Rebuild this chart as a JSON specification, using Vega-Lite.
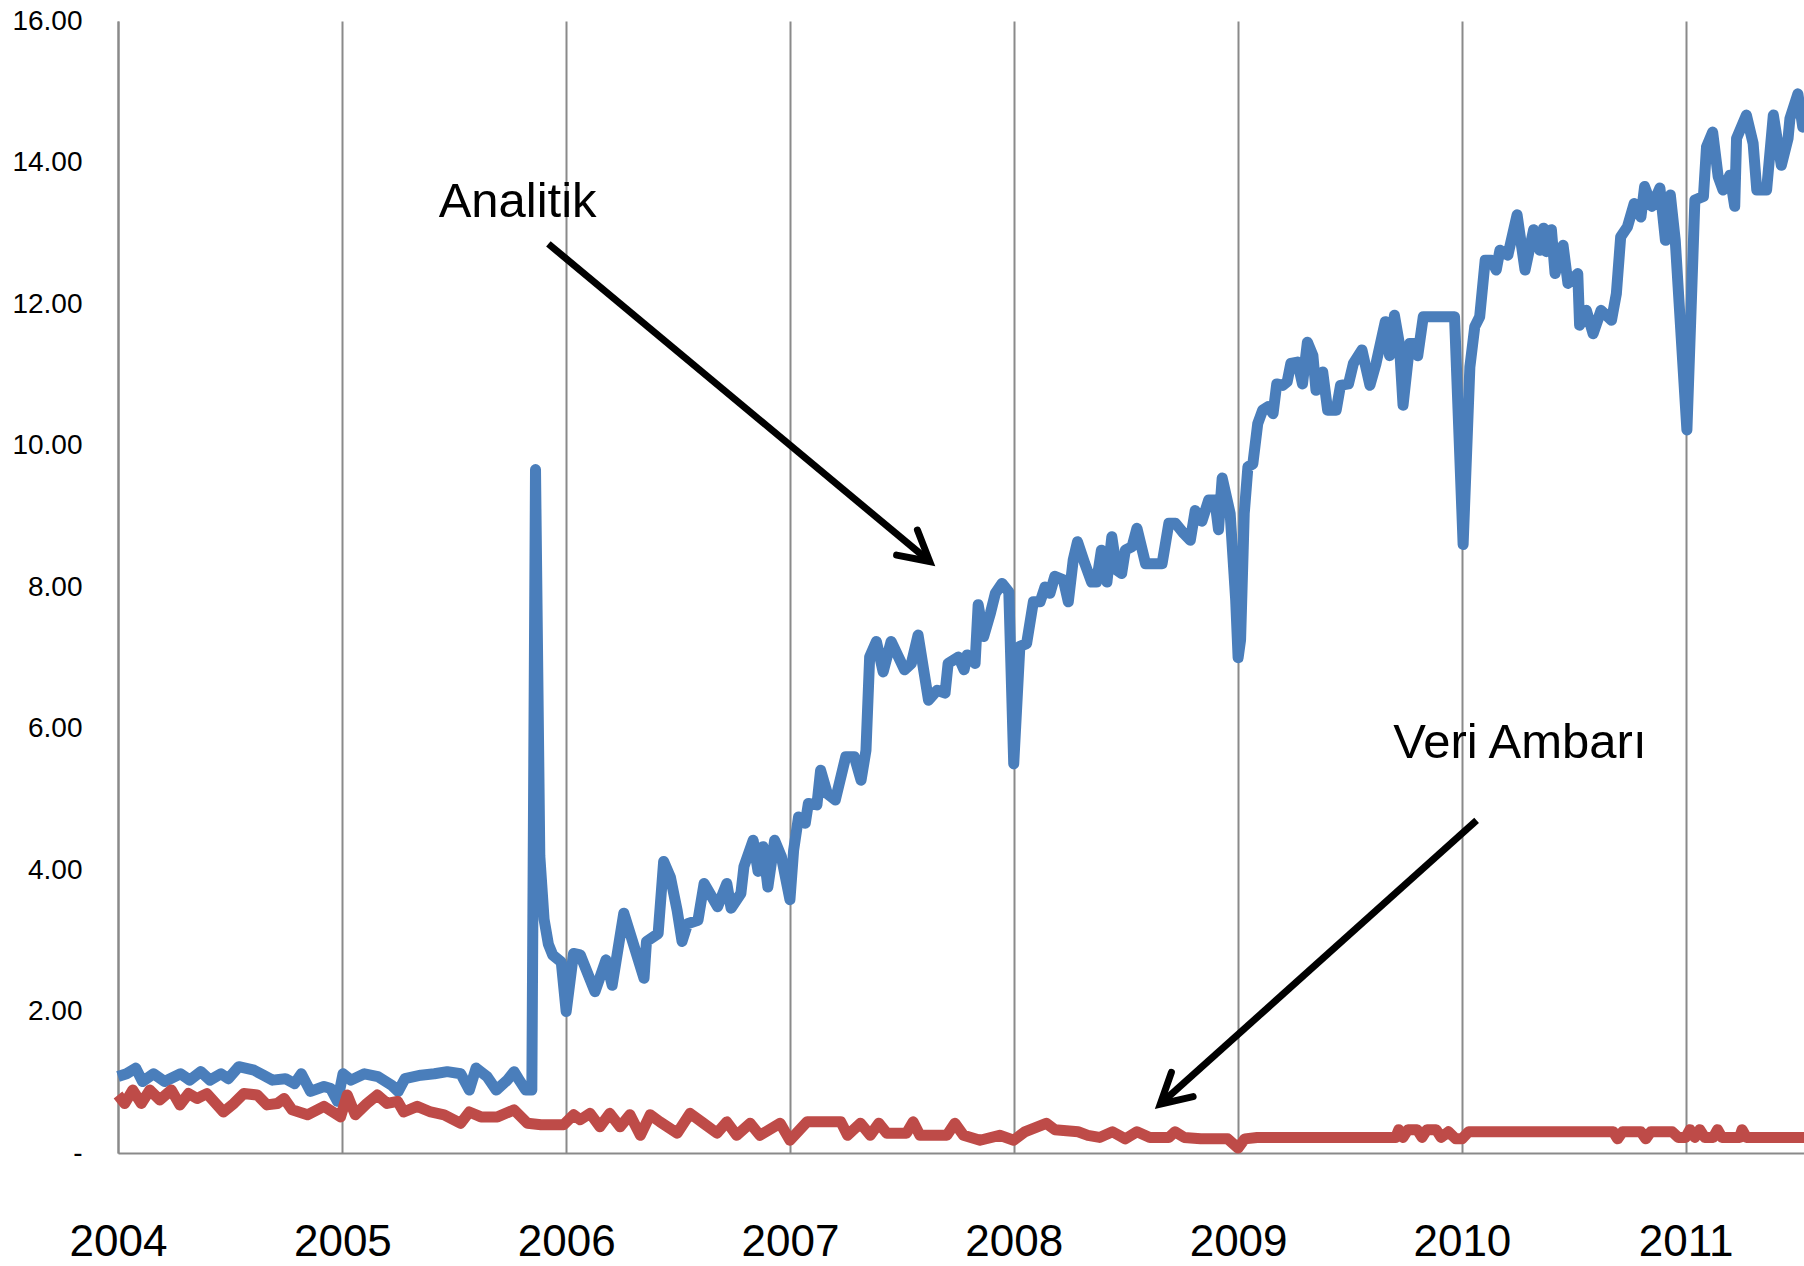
{
  "$schema": "https://vega.github.io/schema/vega-lite/v6.json",
  "width": 1686,
  "height": 1132,
  "autosize": "none",
  "padding": {"left": 118, "top": 21, "right": 0, "bottom": 113},
  "background": "white",
  "config": {"view": {"stroke": null}, "font": "Liberation Sans"},
  "datasets": {
    "analitik": [
      {"date":"2004-01-01","value":1.08},{"date":"2004-01-15","value":1.12},{"date":"2004-01-30","value":1.20},{"date":"2004-02-10","value":1.01},
      {"date":"2004-02-28","value":1.12},{"date":"2004-03-17","value":1.01},{"date":"2004-04-12","value":1.12},{"date":"2004-04-27","value":1.03},
      {"date":"2004-05-15","value":1.15},{"date":"2004-05-30","value":1.03},{"date":"2004-06-17","value":1.12},{"date":"2004-06-29","value":1.05},
      {"date":"2004-07-16","value":1.22},{"date":"2004-08-10","value":1.17},{"date":"2004-08-25","value":1.10},{"date":"2004-09-09","value":1.03},
      {"date":"2004-09-30","value":1.05},{"date":"2004-10-15","value":0.98},{"date":"2004-10-26","value":1.12},{"date":"2004-11-10","value":0.87},
      {"date":"2004-12-02","value":0.94},{"date":"2004-12-13","value":0.91},{"date":"2004-12-24","value":0.73},{"date":"2005-01-02","value":1.12},
      {"date":"2005-01-15","value":1.03},{"date":"2005-02-06","value":1.12},{"date":"2005-02-28","value":1.08},{"date":"2005-03-22","value":0.96},
      {"date":"2005-04-02","value":0.87},{"date":"2005-04-13","value":1.05},{"date":"2005-05-09","value":1.10},{"date":"2005-05-31","value":1.12},
      {"date":"2005-06-21","value":1.15},{"date":"2005-07-13","value":1.12},{"date":"2005-07-27","value":0.89},{"date":"2005-08-07","value":1.20},
      {"date":"2005-08-25","value":1.08},{"date":"2005-09-09","value":0.89},{"date":"2005-09-27","value":1.03},{"date":"2005-10-08","value":1.15},
      {"date":"2005-10-15","value":1.05},{"date":"2005-10-27","value":0.89},{"date":"2005-11-06","value":0.89},{"date":"2005-11-12","value":9.66},
      {"date":"2005-11-19","value":4.2},{"date":"2005-11-26","value":3.3},{"date":"2005-12-03","value":2.95},{"date":"2005-12-10","value":2.8},
      {"date":"2005-12-17","value":2.75},{"date":"2005-12-24","value":2.7},{"date":"2006-01-01","value":2.0},{"date":"2006-01-13","value":2.82},
      {"date":"2006-01-24","value":2.80},{"date":"2006-02-17","value":2.28},{"date":"2006-03-07","value":2.73},{"date":"2006-03-17","value":2.37},
      {"date":"2006-04-05","value":3.39},{"date":"2006-05-08","value":2.47},{"date":"2006-05-12","value":2.99},{"date":"2006-05-31","value":3.1},
      {"date":"2006-06-09","value":4.12},{"date":"2006-06-20","value":3.90},{"date":"2006-07-01","value":3.43},{"date":"2006-07-09","value":2.99},
      {"date":"2006-07-18","value":3.24},{"date":"2006-08-04","value":3.29},{"date":"2006-08-14","value":3.81},{"date":"2006-09-05","value":3.48},
      {"date":"2006-09-20","value":3.81},{"date":"2006-09-27","value":3.46},{"date":"2006-10-13","value":3.67},{"date":"2006-10-18","value":4.05},
      {"date":"2006-11-02","value":4.42},{"date":"2006-11-10","value":3.98},{"date":"2006-11-18","value":4.33},{"date":"2006-11-26","value":3.76},
      {"date":"2006-12-07","value":4.42},{"date":"2006-12-18","value":4.19},{"date":"2007-01-01","value":3.58},{"date":"2007-01-07","value":4.28},
      {"date":"2007-01-15","value":4.75},{"date":"2007-01-26","value":4.66},{"date":"2007-01-31","value":4.94},{"date":"2007-02-14","value":4.92},
      {"date":"2007-02-20","value":5.41},{"date":"2007-03-03","value":5.08},{"date":"2007-03-16","value":4.99},{"date":"2007-04-02","value":5.60},
      {"date":"2007-04-16","value":5.60},{"date":"2007-04-27","value":5.27},{"date":"2007-05-05","value":5.69},{"date":"2007-05-11","value":7.01},
      {"date":"2007-05-22","value":7.23},{"date":"2007-06-02","value":6.80},{"date":"2007-06-15","value":7.23},{"date":"2007-07-07","value":6.83},
      {"date":"2007-07-18","value":6.92},{"date":"2007-07-29","value":7.32},{"date":"2007-08-15","value":6.40},{"date":"2007-08-29","value":6.54},
      {"date":"2007-09-11","value":6.50},{"date":"2007-09-16","value":6.92},{"date":"2007-10-03","value":7.01},{"date":"2007-10-12","value":6.83},
      {"date":"2007-10-17","value":7.04},{"date":"2007-10-30","value":6.92},{"date":"2007-11-04","value":7.75},{"date":"2007-11-13","value":7.30},
      {"date":"2007-11-24","value":7.63},{"date":"2007-12-02","value":7.91},{"date":"2007-12-13","value":8.05},{"date":"2007-12-24","value":7.93},
      {"date":"2008-01-01","value":5.50},{"date":"2008-01-11","value":7.16},{"date":"2008-01-22","value":7.20},{"date":"2008-02-02","value":7.79},
      {"date":"2008-02-13","value":7.79},{"date":"2008-02-21","value":8.00},{"date":"2008-02-29","value":7.91},{"date":"2008-03-08","value":8.15},
      {"date":"2008-03-22","value":8.10},{"date":"2008-03-30","value":7.79},{"date":"2008-04-07","value":8.38},{"date":"2008-04-14","value":8.64},
      {"date":"2008-04-26","value":8.33},{"date":"2008-05-07","value":8.07},{"date":"2008-05-15","value":8.07},{"date":"2008-05-23","value":8.52},
      {"date":"2008-06-01","value":8.07},{"date":"2008-06-09","value":8.71},{"date":"2008-06-17","value":8.24},{"date":"2008-06-25","value":8.19},
      {"date":"2008-07-01","value":8.52},{"date":"2008-07-12","value":8.57},{"date":"2008-07-20","value":8.83},{"date":"2008-08-03","value":8.33},
      {"date":"2008-08-30","value":8.33},{"date":"2008-09-10","value":8.90},{"date":"2008-09-21","value":8.90},{"date":"2008-10-04","value":8.76},
      {"date":"2008-10-15","value":8.66},{"date":"2008-10-23","value":9.08},{"date":"2008-11-03","value":8.93},{"date":"2008-11-14","value":9.23},
      {"date":"2008-11-24","value":9.23},{"date":"2008-11-30","value":8.81},{"date":"2008-12-06","value":9.54},{"date":"2008-12-19","value":9.04},
      {"date":"2008-12-28","value":7.82},{"date":"2009-01-01","value":7.00},{"date":"2009-01-05","value":7.25},{"date":"2009-01-11","value":9.04},
      {"date":"2009-01-17","value":9.70},{"date":"2009-01-25","value":9.74},{"date":"2009-02-02","value":10.31},{"date":"2009-02-10","value":10.50},
      {"date":"2009-02-19","value":10.55},{"date":"2009-02-27","value":10.45},{"date":"2009-03-05","value":10.87},{"date":"2009-03-15","value":10.85},
      {"date":"2009-03-22","value":10.90},{"date":"2009-03-28","value":11.16},{"date":"2009-04-08","value":11.18},{"date":"2009-04-16","value":10.87},
      {"date":"2009-04-24","value":11.46},{"date":"2009-05-03","value":11.27},{"date":"2009-05-08","value":10.78},{"date":"2009-05-19","value":11.04},
      {"date":"2009-05-27","value":10.50},{"date":"2009-06-10","value":10.50},{"date":"2009-06-17","value":10.85},{"date":"2009-06-30","value":10.87},
      {"date":"2009-07-08","value":11.16},{"date":"2009-07-22","value":11.35},{"date":"2009-08-04","value":10.85},{"date":"2009-08-14","value":11.16},
      {"date":"2009-08-29","value":11.75},{"date":"2009-09-05","value":11.27},{"date":"2009-09-13","value":11.84},{"date":"2009-09-21","value":11.44},
      {"date":"2009-09-27","value":10.57},{"date":"2009-10-08","value":11.44},{"date":"2009-10-16","value":11.44},{"date":"2009-10-21","value":11.27},
      {"date":"2009-10-30","value":11.82},{"date":"2009-12-20","value":11.82},{"date":"2010-01-03","value":8.60},{"date":"2010-01-14","value":11.11},
      {"date":"2010-01-22","value":11.68},{"date":"2010-01-30","value":11.82},{"date":"2010-02-08","value":12.62},{"date":"2010-02-18","value":12.62},
      {"date":"2010-02-26","value":12.48},{"date":"2010-03-04","value":12.76},{"date":"2010-03-17","value":12.69},{"date":"2010-04-01","value":13.26},
      {"date":"2010-04-14","value":12.48},{"date":"2010-04-28","value":13.05},{"date":"2010-05-08","value":12.76},{"date":"2010-05-14","value":13.07},
      {"date":"2010-05-19","value":12.74},{"date":"2010-05-27","value":13.05},{"date":"2010-06-02","value":12.43},{"date":"2010-06-15","value":12.83},
      {"date":"2010-06-23","value":12.29},{"date":"2010-07-09","value":12.43},{"date":"2010-07-12","value":11.70},{"date":"2010-07-23","value":11.91},
      {"date":"2010-08-03","value":11.58},{"date":"2010-08-16","value":11.91},{"date":"2010-09-02","value":11.77},{"date":"2010-09-10","value":12.15},
      {"date":"2010-09-17","value":12.95},{"date":"2010-09-28","value":13.09},{"date":"2010-10-09","value":13.42},{"date":"2010-10-20","value":13.23},
      {"date":"2010-10-26","value":13.66},{"date":"2010-11-07","value":13.38},{"date":"2010-11-20","value":13.64},{"date":"2010-11-29","value":12.90},
      {"date":"2010-12-07","value":13.54},{"date":"2010-12-15","value":12.90},{"date":"2011-01-03","value":10.22},{"date":"2011-01-16","value":13.47},
      {"date":"2011-01-30","value":13.52},{"date":"2011-02-04","value":14.22},{"date":"2011-02-14","value":14.43},{"date":"2011-02-23","value":13.80},
      {"date":"2011-03-03","value":13.61},{"date":"2011-03-14","value":13.82},{"date":"2011-03-22","value":13.38},{"date":"2011-03-25","value":14.34},
      {"date":"2011-04-10","value":14.67},{"date":"2011-04-21","value":14.27},{"date":"2011-04-27","value":13.61},{"date":"2011-05-13","value":13.61},
      {"date":"2011-05-24","value":14.67},{"date":"2011-06-06","value":13.96},{"date":"2011-06-17","value":14.34},{"date":"2011-06-20","value":14.62},
      {"date":"2011-07-03","value":14.97},{"date":"2011-07-11","value":14.50},{"date":"2011-07-13","value":14.55}
    ],
    "veri": [
      {"date":"2004-01-01","value":0.82},{"date":"2004-01-12","value":0.70},{"date":"2004-01-25","value":0.89},{"date":"2004-02-08","value":0.70},
      {"date":"2004-02-22","value":0.89},{"date":"2004-03-09","value":0.75},{"date":"2004-03-28","value":0.89},{"date":"2004-04-11","value":0.68},
      {"date":"2004-04-25","value":0.84},{"date":"2004-05-09","value":0.77},{"date":"2004-05-25","value":0.84},{"date":"2004-06-21","value":0.58},
      {"date":"2004-07-08","value":0.70},{"date":"2004-07-24","value":0.84},{"date":"2004-08-15","value":0.82},{"date":"2004-08-31","value":0.68},
      {"date":"2004-09-17","value":0.70},{"date":"2004-09-28","value":0.77},{"date":"2004-10-11","value":0.61},{"date":"2004-11-05","value":0.54},
      {"date":"2004-12-02","value":0.66},{"date":"2004-12-29","value":0.51},{"date":"2005-01-09","value":0.82},{"date":"2005-01-22","value":0.54},
      {"date":"2005-02-10","value":0.70},{"date":"2005-02-27","value":0.82},{"date":"2005-03-15","value":0.70},{"date":"2005-04-01","value":0.73},
      {"date":"2005-04-11","value":0.58},{"date":"2005-05-03","value":0.66},{"date":"2005-05-25","value":0.58},{"date":"2005-06-16","value":0.54},
      {"date":"2005-07-13","value":0.42},{"date":"2005-07-27","value":0.58},{"date":"2005-08-15","value":0.51},{"date":"2005-09-11","value":0.51},
      {"date":"2005-10-08","value":0.61},{"date":"2005-10-30","value":0.42},{"date":"2005-11-21","value":0.40},{"date":"2005-12-28","value":0.40},
      {"date":"2006-01-13","value":0.54},{"date":"2006-01-24","value":0.47},{"date":"2006-02-09","value":0.56},{"date":"2006-02-25","value":0.37},
      {"date":"2006-03-13","value":0.56},{"date":"2006-03-30","value":0.37},{"date":"2006-04-15","value":0.54},{"date":"2006-05-02","value":0.25},
      {"date":"2006-05-18","value":0.54},{"date":"2006-06-03","value":0.44},{"date":"2006-07-01","value":0.28},{"date":"2006-07-22","value":0.56},
      {"date":"2006-08-13","value":0.42},{"date":"2006-09-04","value":0.28},{"date":"2006-09-20","value":0.44},{"date":"2006-10-06","value":0.25},
      {"date":"2006-10-28","value":0.42},{"date":"2006-11-13","value":0.25},{"date":"2006-12-16","value":0.42},{"date":"2007-01-01","value":0.18},
      {"date":"2007-01-29","value":0.44},{"date":"2007-03-25","value":0.44},{"date":"2007-04-05","value":0.25},{"date":"2007-04-26","value":0.42},
      {"date":"2007-05-12","value":0.25},{"date":"2007-05-26","value":0.42},{"date":"2007-06-08","value":0.28},{"date":"2007-07-10","value":0.28},
      {"date":"2007-07-21","value":0.44},{"date":"2007-08-01","value":0.25},{"date":"2007-09-14","value":0.25},{"date":"2007-09-27","value":0.42},
      {"date":"2007-10-11","value":0.25},{"date":"2007-11-07","value":0.18},{"date":"2007-12-09","value":0.25},{"date":"2008-01-01","value":0.18},
      {"date":"2008-01-19","value":0.30},{"date":"2008-02-23","value":0.42},{"date":"2008-03-08","value":0.33},{"date":"2008-04-15","value":0.30},
      {"date":"2008-05-01","value":0.25},{"date":"2008-05-20","value":0.22},{"date":"2008-06-10","value":0.30},{"date":"2008-07-01","value":0.20},
      {"date":"2008-07-20","value":0.30},{"date":"2008-08-10","value":0.22},{"date":"2008-09-10","value":0.22},{"date":"2008-09-20","value":0.30},
      {"date":"2008-10-05","value":0.22},{"date":"2008-11-01","value":0.20},{"date":"2008-12-15","value":0.20},{"date":"2009-01-01","value":0.07},
      {"date":"2009-01-12","value":0.20},{"date":"2009-02-01","value":0.22},{"date":"2009-09-15","value":0.22},{"date":"2009-09-20","value":0.33},
      {"date":"2009-09-27","value":0.22},{"date":"2009-10-05","value":0.33},{"date":"2009-10-20","value":0.33},{"date":"2009-10-28","value":0.22},
      {"date":"2009-11-05","value":0.33},{"date":"2009-11-20","value":0.33},{"date":"2009-11-28","value":0.22},{"date":"2009-12-10","value":0.30},
      {"date":"2009-12-22","value":0.20},{"date":"2010-01-01","value":0.20},{"date":"2010-01-12","value":0.30},{"date":"2010-09-05","value":0.30},
      {"date":"2010-09-12","value":0.20},{"date":"2010-09-20","value":0.30},{"date":"2010-10-20","value":0.30},{"date":"2010-10-28","value":0.20},
      {"date":"2010-11-05","value":0.30},{"date":"2010-12-10","value":0.30},{"date":"2010-12-20","value":0.22},{"date":"2011-01-01","value":0.22},
      {"date":"2011-01-08","value":0.33},{"date":"2011-01-16","value":0.22},{"date":"2011-01-24","value":0.33},{"date":"2011-02-01","value":0.22},
      {"date":"2011-02-15","value":0.22},{"date":"2011-02-22","value":0.33},{"date":"2011-03-01","value":0.22},{"date":"2011-03-30","value":0.22},
      {"date":"2011-04-03","value":0.33},{"date":"2011-04-10","value":0.22},{"date":"2011-07-13","value":0.22}
    ],
    "arrows": [
      {"label":"Analitik","date":"2007-08-17","value":8.36,"date2":"2005-12-03","value2":12.85},
      {"label":"Veri Ambarı","date":"2008-08-27","value":0.69,"date2":"2010-01-25","value2":4.70}
    ],
    "labels": [
      {"date":"2005-06-07","value":13.23,"text":"Analitik"},
      {"date":"2009-09-11","value":5.58,"text":"Veri Ambarı"}
    ]
  },
  "encoding": {
    "x": {
      "field": "date",
      "type": "temporal",
      "scale": {
        "type": "utc",
        "domain": [{"year": 2004, "month": 1, "date": 1, "utc": true}, {"year": 2011, "month": 7, "date": 13, "utc": true}],
        "nice": false
      },
      "axis": {
        "title": null,
        "values": [
          {"year": 2004, "month": 1, "date": 1, "utc": true},
          {"year": 2005, "month": 1, "date": 1, "utc": true},
          {"year": 2006, "month": 1, "date": 1, "utc": true},
          {"year": 2007, "month": 1, "date": 1, "utc": true},
          {"year": 2008, "month": 1, "date": 1, "utc": true},
          {"year": 2009, "month": 1, "date": 1, "utc": true},
          {"year": 2010, "month": 1, "date": 1, "utc": true},
          {"year": 2011, "month": 1, "date": 1, "utc": true}
        ],
        "labelExpr": "utcFormat(datum.value, '%Y')",
        "grid": true,
        "gridColor": "#8a8a8a",
        "gridWidth": 2,
        "domainColor": "#8a8a8a",
        "domainWidth": 2,
        "ticks": false,
        "tickSize": 0,
        "labelFont": "Liberation Sans",
        "labelFontSize": 44,
        "labelColor": "#000000",
        "labelPadding": 102,
        "labelBaseline": "alphabetic",
        "labelFlush": false,
        "labelOverlap": false
      }
    },
    "y": {
      "field": "value",
      "type": "quantitative",
      "scale": {"domain": [0, 16], "nice": false, "zero": true},
      "axis": {
        "title": null,
        "values": [0, 2, 4, 6, 8, 10, 12, 14, 16],
        "labelExpr": "datum.value == 0 ? '-\u00a0\u00a0' : format(datum.value, '.2f')",
        "grid": false,
        "ticks": false,
        "tickSize": 0,
        "domainColor": "#8a8a8a",
        "domainWidth": 2,
        "labelFont": "Liberation Sans",
        "labelFontSize": 28,
        "labelColor": "#000000",
        "labelPadding": 36,
        "labelFlush": false,
        "labelOverlap": false
      }
    }
  },
  "layer": [
    {
      "data": {"name": "analitik"},
      "mark": {"type": "line", "color": "#4A7EBB", "strokeWidth": 11, "strokeJoin": "round", "strokeCap": "butt"}
    },
    {
      "data": {"name": "veri"},
      "mark": {"type": "line", "color": "#BE4B48", "strokeWidth": 11, "strokeJoin": "round", "strokeCap": "butt"}
    },
    {
      "data": {"name": "arrows"},
      "mark": {"type": "rule", "color": "#000000", "strokeWidth": 7},
      "encoding": {"x2": {"field": "date2"}, "y2": {"field": "value2"}}
    },
    {
      "data": {"name": "arrows"},
      "transform": [{"filter": "datum.label == 'Analitik'"}],
      "mark": {"type": "point", "shape": "M-1,-0.55L0,0L-1,0.55", "size": 3500, "angle": 39.8, "filled": false, "stroke": "#000000", "strokeWidth": 7, "opacity": 1, "strokeCap": "round", "strokeJoin": "miter"}
    },
    {
      "data": {"name": "arrows"},
      "transform": [{"filter": "datum.label != 'Analitik'"}],
      "mark": {"type": "point", "shape": "M-1,-0.55L0,0L-1,0.55", "size": 3500, "angle": 138.1, "filled": false, "stroke": "#000000", "strokeWidth": 7, "opacity": 1, "strokeCap": "round", "strokeJoin": "miter"}
    },
    {
      "data": {"name": "labels"},
      "mark": {"type": "text", "align": "left", "baseline": "alphabetic", "fontSize": 49, "font": "Liberation Sans", "color": "#000000"},
      "encoding": {"text": {"field": "text"}}
    }
  ]
}
